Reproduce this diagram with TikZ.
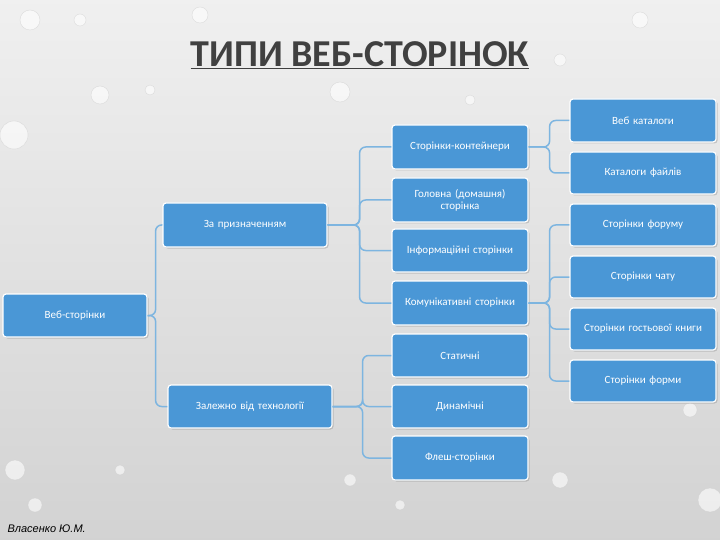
\documentclass[tikz,border=0pt]{standalone}
\usepackage{fontspec}
\setmainfont{Carlito}
\newfontfamily\authfont{Liberation Sans}
\usetikzlibrary{shadows}
\definecolor{boxblue}{HTML}{4A97D6}
\definecolor{linkblue}{HTML}{7DB5E0}
\definecolor{titlegray}{HTML}{404040}
\begin{document}
\begin{tikzpicture}[x=1pt,y=-1pt,
  bx/.style={draw=white,line width=1.2pt,fill=boxblue,rounded corners=3pt,text=white,
    font=\fontsize{11}{12}\selectfont,align=center,drop shadow={opacity=0.35,shadow xshift=1.5pt,shadow yshift=-1.5pt}},
  lk/.style={draw=linkblue,line width=1.5pt,rounded corners=6pt},
  drop/.style={fill=white,opacity=0.6,draw=gray!40}]
\shade[top color=gray!12,bottom color=gray!35] (0,0) rectangle (720,540);
\useasboundingbox (0,0) rectangle (720,540);
% droplets
\foreach \x/\y/\r in {30/20/10,14/135/14,100/95/9,80/20/6,340/92/10,150/90/5,200/15/8,640/20/8,560/60/6,470/100/5,15/470/10,35/505/7,710/500/12,690/410/7,350/480/6,560/480/8,120/470/5,400/505/5}
  \fill[drop] (\x,\y) circle (\r);
\node[font=\fontsize{38}{40}\selectfont\bfseries,text=titlegray] (t) at (360,55) {\underline{ТИПИ ВЕБ-СТОРІНОК}};
\newcommand\bb[6]{\node[bx,minimum width=#4-#2,minimum height=#5-#3,text width=#4-#2-8] (#1) at ({(#2+#4)/2},{(#3+#5)/2}) {#6};}
\bb{web}{3}{294}{147}{337}{Веб-сторінки}
\bb{pur}{163}{203}{327}{247}{За призначенням}
\bb{tec}{168}{385}{332}{428}{Залежно від технології}
\bb{cont}{392}{125}{528}{169}{Сторінки-контейнери}
\bb{home}{392}{178}{528}{222}{Головна (домашня)\\сторінка}
\bb{info}{392}{229}{528}{272}{Інформаційні сторінки}
\bb{comm}{392}{281}{528}{325}{Комунікативні сторінки}
\bb{stat}{392}{334}{528}{377}{Статичні}
\bb{dyn}{392}{385}{528}{428}{Динамічні}
\bb{flash}{392}{436}{528}{480}{Флеш-сторінки}
\bb{cat}{570}{99}{716}{142}{Веб каталоги}
\bb{files}{570}{152}{716}{194}{Каталоги файлів}
\bb{forum}{570}{204}{716}{246}{Сторінки форуму}
\bb{chat}{570}{256}{716}{298}{Сторінки чату}
\bb{guest}{570}{308}{716}{350}{Сторінки гостьової книги}
\bb{form}{570}{360}{716}{402}{Сторінки форми}
\foreach \a/\b in {web/pur,web/tec}
  \draw[lk] (\a.east) -- ++(8,0) |- (\b.west);
\foreach \b in {cont,home,info,comm}
  \draw[lk] (pur.east) -- ++(32,0) |- (\b.west);
\foreach \b in {stat,dyn,flash}
  \draw[lk] (tec.east) -- ++(30,0) |- (\b.west);
\foreach \b in {cat,files}
  \draw[lk] (cont.east) -- ++(21,0) |- (\b.west);
\foreach \b in {forum,chat,guest,form}
  \draw[lk] (comm.east) -- ++(21,0) |- (\b.west);
\node[anchor=south west,font=\authfont\itshape\fontsize{11}{12}\selectfont] (auth) at (4,536) {Власенко Ю.М.};
\end{tikzpicture}
\end{document}
